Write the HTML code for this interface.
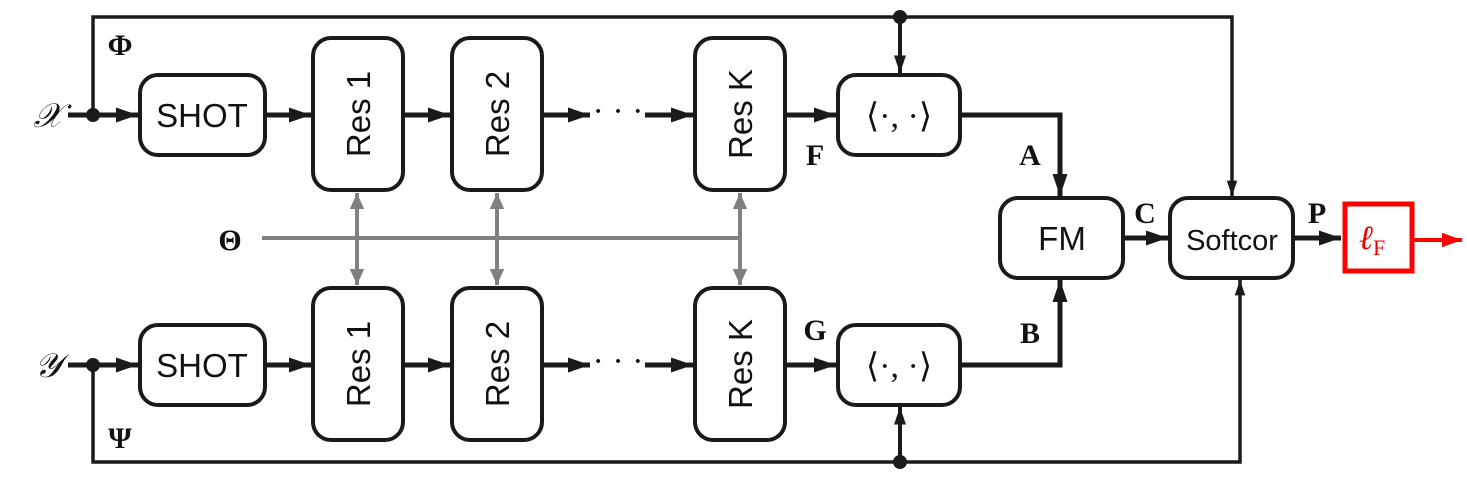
<!DOCTYPE html><html><head><style>body{margin:0;background:#fff}svg{display:block}</style></head><body>
<svg width="1467" height="485" viewBox="0 0 1467 485" xmlns="http://www.w3.org/2000/svg">
<defs>
<marker id="b" markerWidth="4.4" markerHeight="3" refX="4.4" refY="1.5" orient="auto" markerUnits="strokeWidth"><path d="M0,0 L4.4,1.5 L0,3z" fill="#1a1a1a"/></marker>
<marker id="g" markerWidth="4" markerHeight="3.6" refX="4" refY="1.8" orient="auto-start-reverse" markerUnits="strokeWidth"><path d="M0,0 L4,1.8 L0,3.6z" fill="#808080"/></marker>
<marker id="r" markerWidth="5" markerHeight="3.6" refX="5" refY="1.8" orient="auto" markerUnits="strokeWidth"><path d="M0,0 L5,1.8 L0,3.6z" fill="#f00"/></marker>
</defs>
<g fill="none" stroke="#1a1a1a" stroke-width="4">
<path d="M93,115 V17 H1232 V196" stroke-width="3.5" marker-end="url(#b)"/>
<path d="M900,17 V73" marker-end="url(#b)"/>
<path d="M93,365 V462 H1240 V280" stroke-width="3.5" marker-end="url(#b)"/>
<path d="M900,462 V407" marker-end="url(#b)"/>
<g stroke-width="5">
<path d="M68,115 H138" marker-end="url(#b)"/>
<path d="M68,365 H138" marker-end="url(#b)"/>
<path d="M265,115 H311" marker-end="url(#b)"/><path d="M403,115 H450" marker-end="url(#b)"/>
<path d="M542,115 H590" marker-end="url(#b)"/><path d="M645,115 H693" marker-end="url(#b)"/>
<path d="M785,115 H836" marker-end="url(#b)"/>
<path d="M265,365 H311" marker-end="url(#b)"/><path d="M403,365 H450" marker-end="url(#b)"/>
<path d="M542,365 H590" marker-end="url(#b)"/><path d="M645,365 H693" marker-end="url(#b)"/>
<path d="M785,365 H836" marker-end="url(#b)"/>
<path d="M1123,238 H1168" marker-end="url(#b)"/><path d="M1293,238 H1341" marker-end="url(#b)"/>
<path d="M960,115 H1060 V196" marker-end="url(#b)"/>
<path d="M960,365 H1060 V280" marker-end="url(#b)"/>
</g>
<rect x="140" y="75" width="125" height="80" rx="18"/>
<rect x="140" y="325" width="125" height="80" rx="18"/>
<rect x="313" y="38" width="90" height="152" rx="18"/><rect x="452" y="38" width="90" height="152" rx="18"/><rect x="695" y="38" width="90" height="152" rx="18"/>
<rect x="313" y="288" width="90" height="152" rx="18"/><rect x="452" y="288" width="90" height="152" rx="18"/><rect x="695" y="288" width="90" height="152" rx="18"/>
<rect x="838" y="75" width="122" height="80" rx="18"/><rect x="838" y="325" width="122" height="80" rx="18"/>
<rect x="1000" y="198" width="123" height="80" rx="18"/><rect x="1170" y="198" width="123" height="80" rx="18"/>
</g>
<g stroke="#808080" stroke-width="4" fill="none">
<path d="M262,238 H740"/>
<path d="M357,193 V285" marker-start="url(#g)" marker-end="url(#g)"/>
<path d="M497,193 V285" marker-start="url(#g)" marker-end="url(#g)"/>
<path d="M740,193 V285" marker-start="url(#g)" marker-end="url(#g)"/>
</g>
<rect x="1345" y="204" width="67" height="67" fill="none" stroke="#f00" stroke-width="5"/>
<path d="M1412,240 H1462" stroke="#f00" stroke-width="4" marker-end="url(#r)"/>
<g fill="#1a1a1a"><circle cx="93" cy="115" r="7"/><circle cx="93" cy="365" r="7"/><circle cx="900" cy="17" r="7"/><circle cx="900" cy="462" r="7"/></g>
<g font-family="Liberation Sans, sans-serif" font-size="33" fill="#111" text-anchor="middle">
<text x="202" y="127">SHOT</text><text x="202" y="377">SHOT</text>
<text x="1062" y="250">FM</text><text x="1232" y="250" font-size="29">Softcor</text>
<text transform="translate(370,114) rotate(-90)">Res 1</text><text transform="translate(509,114) rotate(-90)">Res 2</text><text transform="translate(752,114) rotate(-90)">Res K</text>
<text transform="translate(370,364) rotate(-90)">Res 1</text><text transform="translate(509,364) rotate(-90)">Res 2</text><text transform="translate(752,364) rotate(-90)">Res K</text>
</g>
<g font-family="Liberation Serif, serif" font-size="30" fill="#111" font-weight="bold" text-anchor="middle">
<text x="120" y="55">Φ</text><text x="120" y="448">Ψ</text><text x="230" y="250">Θ</text>
<text x="815" y="165">F</text><text x="815" y="340">G</text><text x="1030" y="165">A</text><text x="1030" y="343">B</text>
<text x="1145" y="223">C</text><text x="1317" y="223">P</text>
</g>
<g font-family="Liberation Serif, serif" font-size="34" fill="#111" text-anchor="middle">
<text x="48" y="127" font-style="italic">𝒳</text><text x="48" y="377" font-style="italic">𝒴</text>
<text x="618" y="122">· · ·</text><text x="618" y="372">· · ·</text>
<text x="899" y="127">⟨·, ·⟩</text><text x="899" y="377">⟨·, ·⟩</text>
<text x="1372" y="249" fill="#e00" font-style="italic">ℓ<tspan font-size="22" font-style="normal" dy="6">F</tspan></text>
</g>
</svg>
</body></html>
